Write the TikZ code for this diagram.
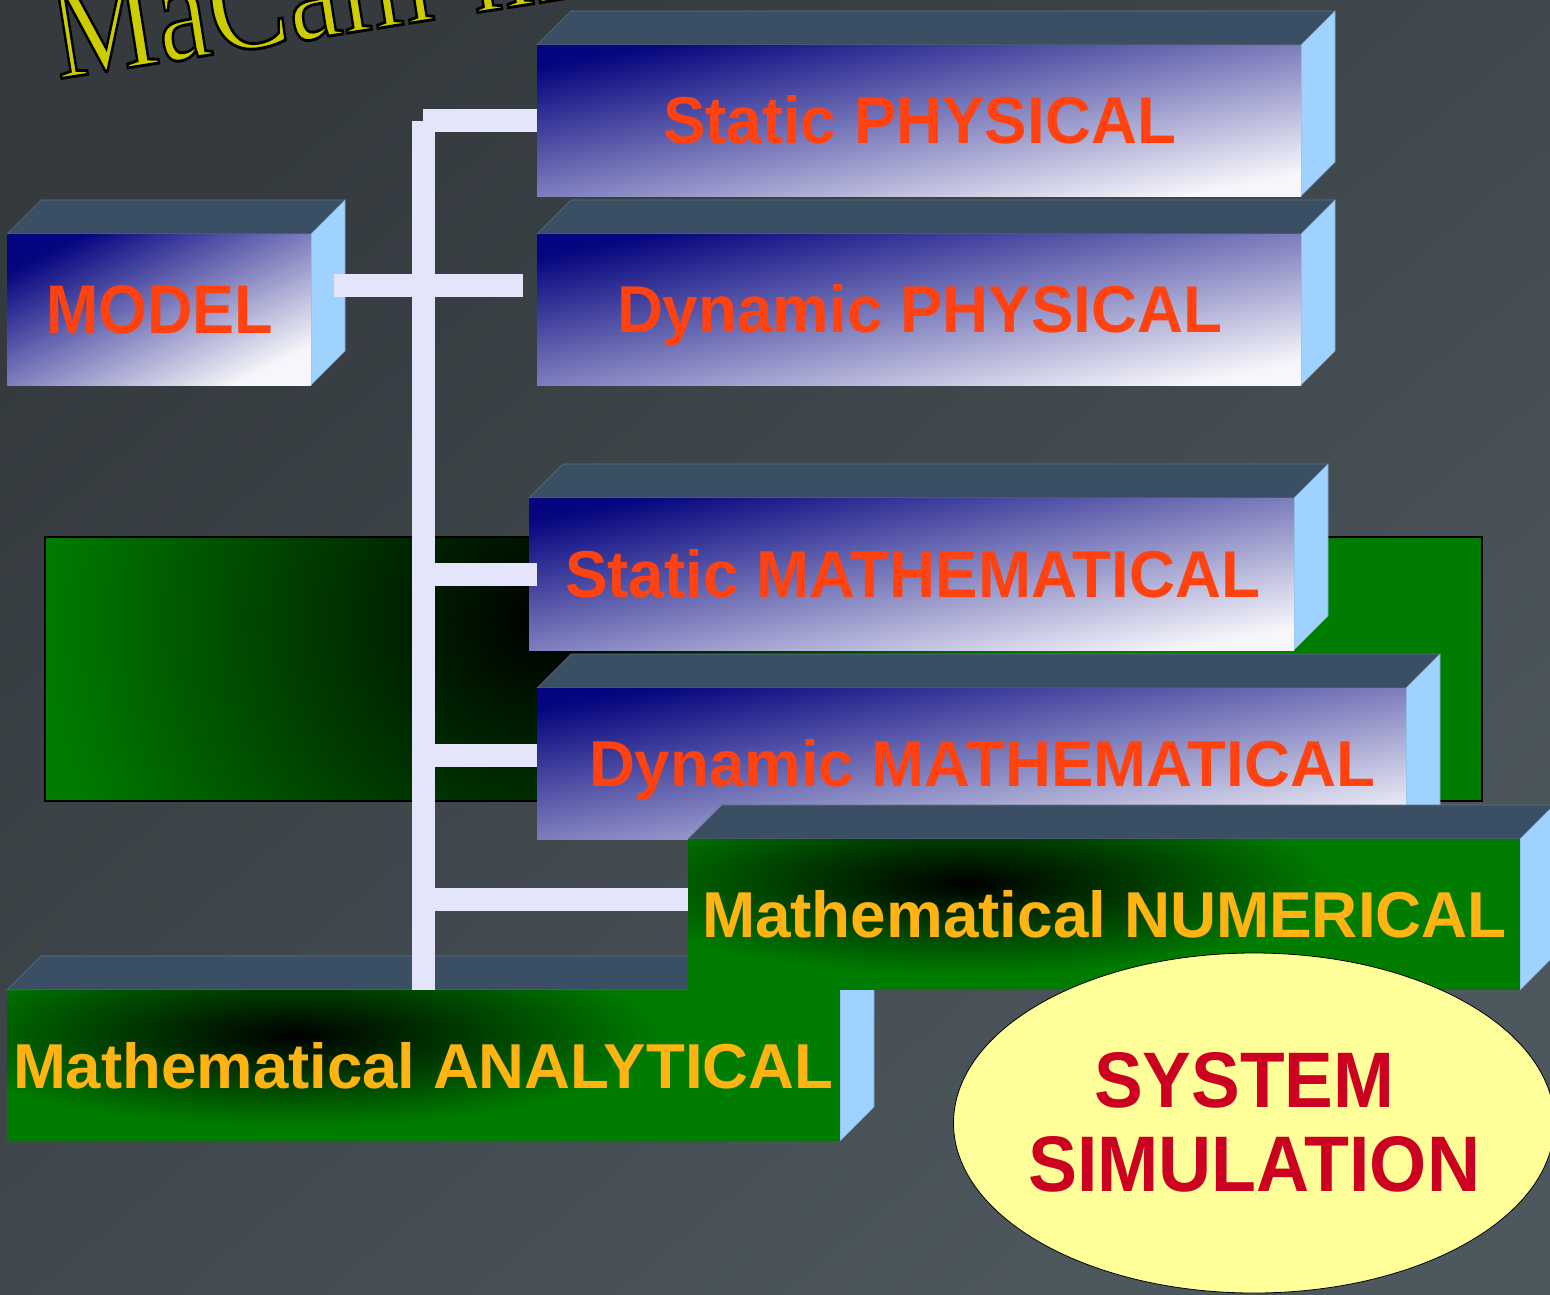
\documentclass[tikz,border=0pt]{standalone}
\usepackage{fontspec}
\setmainfont{Liberation Sans}
\newfontfamily\titlefont{Liberation Serif}
\usepackage{graphicx}
\usetikzlibrary{shapes.geometric}

\definecolor{bgA}{HTML}{343A3E}
\definecolor{bgB}{HTML}{4D585E}
\definecolor{boxnavy}{HTML}{05057F}
\definecolor{boxwhite}{HTML}{F6F6FB}
\definecolor{topcol}{HTML}{3A4F63}
\definecolor{sidecol}{HTML}{A0D2FF}
\definecolor{pptgreen}{HTML}{007C00}
\definecolor{connlav}{HTML}{E4E4FA}
\definecolor{redorange}{HTML}{FF4210}
\definecolor{goldtext}{HTML}{FFB414}
\definecolor{simyellow}{HTML}{FFFF99}
\definecolor{simred}{HTML}{CC0020}
\definecolor{titleyellow}{HTML}{CCCC00}

\pgfdeclareverticalshading{boxgrad}{100bp}{color(0bp)=(boxwhite); color(25bp)=(boxwhite); color(75bp)=(boxnavy); color(100bp)=(boxnavy)}
\pgfdeclareverticalshading{bggrad}{100bp}{color(0bp)=(bgB); color(25bp)=(bgB); color(75bp)=(bgA); color(100bp)=(bgA)}
\pgfdeclareradialshading{glow}{\pgfpoint{0bp}{0bp}}{color(0bp)=(black); color(25bp)=(pptgreen); color(50bp)=(pptgreen)}

\tikzset{
  topface/.style={fill=topcol, draw=topcol!80!white, line width=0.6pt},
  sideface/.style={fill=sidecol, draw=sidecol!80!black, line width=0.6pt},
  frontnode/.style={inner sep=0pt, outer sep=0pt, draw=none, rectangle},
  conn/.style={draw=connlav, line width=23pt, line cap=butt},
  lbl/.style={anchor=base west, inner sep=0pt, outer sep=0pt, font=\bfseries},
}

% #1 name, #2 x1, #3 y1, #4 x2, #5 y2
\newcommand\threedbox[5]{%
  \fill[topface] (#2,#3) -- ({#2+34},{#3-34}) -- ({#4+34},{#3-34}) -- (#4,#3) -- cycle;
  \fill[sideface] (#4,#3) -- ({#4+34},{#3-34}) -- ({#4+34},{#5-34}) -- (#4,#5) -- cycle;
  \node[frontnode, minimum width={(#4-#2)*1pt}, minimum height={(#5-#3)*1pt}] (#1) at ({(#2+#4)/2},{(#3+#5)/2}) {};
}
% #1 name, #2 angle (atan of height/width)
\newcommand\bluefront[2]{%
  \shade[shading=boxgrad, shading angle=#2] (#1.north west) rectangle (#1.south east);
}
\newcommand\greenfront[3]{%
  \begin{scope}
    \clip (#1.north west) rectangle (#1.south east);
    \fill[pptgreen] (#1.north west) rectangle (#1.south east);
    \shade[shading=glow] (#2,#3) ellipse [x radius=370, y radius=92];
  \end{scope}
}
% #1 name, #2 x, #3 baseline, #4 width, #5 height, #6 colour, #7 text
\newcommand\boxlabel[7]{%
  \node[lbl, text=#6] (#1) at (#2,#3) {\resizebox{#4pt}{#5pt}{#7}};
}

\begin{document}
\begin{tikzpicture}[x=1pt, y=-1pt]
\useasboundingbox (0,0) rectangle (1550,1294);
\clip (0,0) rectangle (1550,1294);
% background
\shade[shading=bggrad, shading angle=39.9] (0,0) rectangle (1550,1294);

% green backdrop
\begin{scope}
  \clip (45,537) rectangle (1482,801);
  \fill[pptgreen] (45,537) rectangle (1482,801);
  \shade[shading=glow] (540,620) circle [radius=500];
\end{scope}
\draw[black, line width=1.5pt] (45,537) rectangle (1482,801);

% title (cut off at the top)
\node[rotate=9, anchor=base west, inner sep=0pt, text=titleyellow] (title) at (58,79)
  {\titlefont\fontsize{125}{125}\selectfont\scalebox{0.95}[1.15]{\special{pdf:code 0 0 0 RG 2.5 w 2 Tr}MaCam-macam\special{pdf:code 0 Tr}}};

% physical boxes
\threedbox{sp}{537}{45}{1301}{196}
\bluefront{sp}{11.2}
\boxlabel{tsp}{663}{143}{513}{48}{redorange}{Static PHYSICAL}

\threedbox{dp}{537}{234}{1301}{385}
\bluefront{dp}{11.2}
\boxlabel{tdp}{617}{332}{605}{48}{redorange}{Dynamic PHYSICAL}

\threedbox{model}{7}{234}{311}{385}
\bluefront{model}{26.4}
\boxlabel{tmodel}{46}{333}{227}{48}{redorange}{MODEL}

% mathematical boxes
\threedbox{sm}{529}{498}{1294}{650}
\bluefront{sm}{11.2}
\boxlabel{tsm}{565}{597}{695}{48}{redorange}{Static MATHEMATICAL}

\threedbox{dm}{537}{688}{1406}{839}
\bluefront{dm}{9.9}
\boxlabel{tdm}{589}{786}{786}{47}{redorange}{Dynamic MATHEMATICAL}

% analytical box
\threedbox{ana}{7}{990}{840}{1141}
\greenfront{ana}{295}{1035}
\boxlabel{tana}{13}{1088}{820}{46}{goldtext}{Mathematical ANALYTICAL}

% connectors
\coordinate (trunktop) at (423.5,121);
\coordinate (trunkbot) at (423.5,990);
\draw[conn] (trunktop) -- (trunkbot);
\coordinate (j1) at (423,120.5);
\draw[conn] (j1) -- (sp.west);
\coordinate (m1) at (334,285.5);
\coordinate (m2) at (523,285.5);
\draw[conn] (m1) -- (m2);
\coordinate (j3) at (435,574.5);
\draw[conn] (j3) -- (537,574.5);
\coordinate (j4) at (435,755.5);
\draw[conn] (j4) -- (dm.west |- j4);

% numerical box
\threedbox{num}{688}{839}{1520}{990}
\greenfront{num}{967}{883}
\coordinate (j5) at (435,899.5);
\draw[conn] (j5) -- (num.west |- j5);
\boxlabel{tnum}{702}{937}{805}{47}{goldtext}{Mathematical NUMERICAL}

% system simulation
\node[ellipse, draw=black, line width=0.8pt, fill=simyellow, inner sep=0pt,
      minimum width=601pt, minimum height=340pt] (sim) at (1254,1123) {};
\boxlabel{tsys}{1094}{1107}{300}{55}{simred}{SYSTEM}
\boxlabel{tsimu}{1028}{1191}{452}{55}{simred}{SIMULATION}
\end{tikzpicture}
\end{document}
